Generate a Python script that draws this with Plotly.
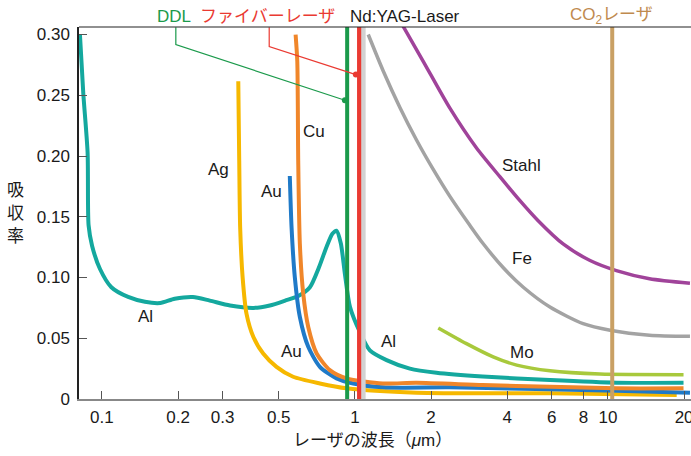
import math
import plotly.graph_objects as go

# ---------------- data ----------------
al_x = [0.0819, 0.0844, 0.0878, 0.0886, 0.0915, 0.0983, 0.109, 0.127, 0.148, 0.170, 0.194, 0.229, 0.267,
        0.321, 0.397, 0.461, 0.530, 0.600, 0.664, 0.720, 0.775, 0.815, 0.846, 0.880, 0.913, 0.956, 1.047,
        1.146, 1.334, 1.649, 2.10, 3.2, 5.9, 10.8, 19.9]
al_y = [0.300, 0.252, 0.203, 0.143, 0.126, 0.107, 0.092, 0.084, 0.080, 0.079, 0.0825, 0.084, 0.081,
        0.077, 0.075, 0.077, 0.081, 0.085, 0.092, 0.108, 0.126, 0.136, 0.1385, 0.128, 0.103, 0.076, 0.055,
        0.040, 0.032, 0.025, 0.0216, 0.0185, 0.0156, 0.0134, 0.0134]

ag_x = [0.346, 0.349, 0.352, 0.360, 0.373, 0.397, 0.434, 0.49, 0.57, 0.727, 0.927, 1.75, 5.9, 18.7]
ag_y = [0.2615, 0.196, 0.141, 0.100, 0.070, 0.051, 0.0375, 0.0265, 0.0183, 0.0128, 0.0088, 0.0052, 0.0047, 0.0033]

cu_x = [0.583, 0.592, 0.597, 0.606, 0.625, 0.654, 0.706, 0.796, 0.927, 1.29, 1.75, 3.2, 5.9, 10.8, 19.9]
cu_y = [0.300, 0.278, 0.196, 0.1276, 0.0866, 0.0593, 0.0375, 0.0238, 0.017, 0.0128, 0.0134, 0.0115, 0.0101, 0.0088, 0.0088]

au_x = [0.553, 0.562, 0.579, 0.606, 0.654, 0.727, 0.846, 0.985, 1.29, 2.37, 5.9, 10.8, 21.1]
au_y = [0.1836, 0.141, 0.100, 0.0675, 0.043, 0.0265, 0.017, 0.0128, 0.0096, 0.0096, 0.008, 0.0068, 0.0052]

fe_x = [1.129, 1.294, 1.506, 1.754, 2.04, 2.37, 2.846, 3.21, 3.86, 4.63, 5.9, 7.98, 10.2, 14.6, 21.1]
fe_y = [0.300, 0.270, 0.240, 0.213, 0.189, 0.167, 0.143, 0.128, 0.108, 0.092, 0.0757, 0.062, 0.0566, 0.0525, 0.0516]

stahl_x = [1.52, 1.862, 2.37, 3.02, 3.74, 4.5, 5.3, 6.65, 8.5, 10.8, 14.6, 21.1]
stahl_y = [0.310, 0.278, 0.2396, 0.2068, 0.183, 0.163, 0.1467, 0.1276, 0.114, 0.1057, 0.099, 0.0953]

mo_x = [2.135, 2.76, 3.52, 4.36, 5.9, 9.3, 19.9]
mo_y = [0.0585, 0.0456, 0.0347, 0.0279, 0.0232, 0.0205, 0.020]

# laser wavelengths (µm)
lasers = ["DDL", "ファイバーレーザ", "Nd:YAG-Laser", "CO<sub>2</sub>レーザ"]
laser_wl = [0.932, 1.04, 1.078, 10.4]
laser_colors = ["#1b9a4b", "#ea3a32", "#d2d2d2", "#c9a064"]
laser_widths = [4, 4, 5, 4]
laser_label_x = [0.1925, 0.453, 1.576, 10.37]

# leader lines for DDL and fiber laser labels
ddl_lead_x = [0.196, 0.196, 0.913]
ddl_lead_y = [0.306, 0.2918, 0.2459]
fib_lead_x = [0.4585, 0.4585, 1.009]
fib_lead_y = [0.306, 0.290, 0.267]

# curve labels
lab_text = ["Al", "Ag", "Cu", "Au", "Au", "Al", "Stahl", "Fe", "Mo"]
lab_x = [0.149, 0.288, 0.689, 0.47, 0.563, 1.362, 4.57, 4.57, 4.57]
lab_y = [0.068, 0.189, 0.2205, 0.171, 0.039, 0.0475, 0.192, 0.1156, 0.0385]

x_ticks = [0.1, 0.2, 0.3, 0.5, 1, 2, 4, 6, 8, 10, 20]
y_ticks = [0, 0.05, 0.10, 0.15, 0.20, 0.25, 0.30]
y_ticktext = ["0", "0.05", "0.10", "0.15", "0.20", "0.25", "0.30"]
y_title_chars = ["吸", "収", "率"]

X_RANGE = [0.0812, 21.3]
Y_RANGE = [0, 0.3062]

FONT = "Liberation Sans, Arial, Noto Sans CJK JP, sans-serif"

fig = go.Figure()

curves = [
    (fe_x, fe_y, "#a3a3a3", 3.5),
    (stahl_x, stahl_y, "#a0439a", 3.5),
    (mo_x, mo_y, "#a8c93c", 3.5),
    (al_x, al_y, "#14a89e", 4),
    (ag_x, ag_y, "#f6b800", 4),
    (au_x, au_y, "#1f7ac8", 4),
    (cu_x, cu_y, "#f0862a", 4),
]
for xs, ys, c, w in curves:
    fig.add_trace(go.Scatter(x=xs, y=ys, mode="lines",
                             line=dict(color=c, width=w, shape="spline", smoothing=0.7),
                             hoverinfo="skip", showlegend=False))

# laser vertical lines
for wl, c, w in zip(laser_wl, laser_colors, laser_widths):
    fig.add_trace(go.Scatter(x=[wl, wl], y=Y_RANGE, mode="lines",
                             line=dict(color=c, width=w), hoverinfo="skip", showlegend=False))
fig.add_trace(go.Scatter(x=[laser_wl[1]] * 2, y=Y_RANGE, mode="lines",
                         line=dict(color=laser_colors[1], width=4), hoverinfo="skip", showlegend=False))

# leader lines
for lx, ly, c in [(ddl_lead_x, ddl_lead_y, laser_colors[0]), (fib_lead_x, fib_lead_y, laser_colors[1])]:
    fig.add_trace(go.Scatter(x=lx, y=ly, mode="lines", line=dict(color=c, width=1.2),
                             hoverinfo="skip", showlegend=False))
    fig.add_trace(go.Scatter(x=[lx[-1]], y=[ly[-1]], mode="markers",
                             marker=dict(color=c, size=6), hoverinfo="skip", showlegend=False))

annotations = []
for t, x, y in zip(lab_text, lab_x, lab_y):
    annotations.append(dict(x=math.log10(x), y=y, xref="x", yref="y", text=t, showarrow=False,
                            font=dict(family=FONT, size=17, color="#1a1a1a")))
label_colors = ["#1b9a4b", "#ea3a32", "#1a1a1a", "#c08a4e"]
for t, x, c in zip(lasers, laser_label_x, label_colors):
    annotations.append(dict(x=math.log10(x), y=1, xref="x", yref="paper", yanchor="middle", yshift=11,
                            text=t, showarrow=False, font=dict(family=FONT, size=17, color=c)))
# axis titles
annotations.append(dict(x=0.479, y=0, xref="paper", yref="paper", yshift=-41, yanchor="middle",
                        text="レーザの波長（<i>μ</i>m）", showarrow=False,
                        font=dict(family=FONT, size=17, color="#1a1a1a")))
for i, ch in enumerate(y_title_chars):
    annotations.append(dict(x=0, y=1, xref="paper", yref="paper", xshift=-64, yshift=-163 - 23 * i,
                            xanchor="center", yanchor="middle", text=ch, showarrow=False,
                            font=dict(family=FONT, size=17, color="#1a1a1a")))

fig.update_layout(
    width=691, height=456,
    margin=dict(l=79, r=0, t=27, b=57, autoexpand=False),
    plot_bgcolor="white", paper_bgcolor="white",
    font=dict(family=FONT, size=17, color="#1a1a1a"),
    annotations=annotations,
    shapes=[dict(type="line", xref="paper", yref="paper", x0=0, x1=1, y0=1, y1=1,
                 line=dict(color="#222", width=1.2))],
    xaxis=dict(type="log", range=[math.log10(X_RANGE[0]), math.log10(X_RANGE[1])],
               tickvals=x_ticks, ticktext=[str(v) for v in x_ticks], automargin=False,
               ticks="inside", ticklen=8, tickcolor="#555", tickwidth=1,
               showline=True, linecolor="#888", linewidth=2, showgrid=False, zeroline=False,
               ticklabelstandoff=2, ticklabeloverflow="allow"),
    yaxis=dict(range=Y_RANGE, tickvals=y_ticks, ticktext=y_ticktext, automargin=False,
               ticks="inside", ticklen=8, tickcolor="#555", tickwidth=1,
               showline=True, linecolor="#222", linewidth=1.5, showgrid=False, zeroline=False,
               ticklabelstandoff=4),
)

# remove the default page margin so the figure sits at the window's top-left corner
fig.write_html("out.html", config={"displayModeBar": False},
               post_script="document.body.style.margin='0';document.body.style.overflow='hidden';")
